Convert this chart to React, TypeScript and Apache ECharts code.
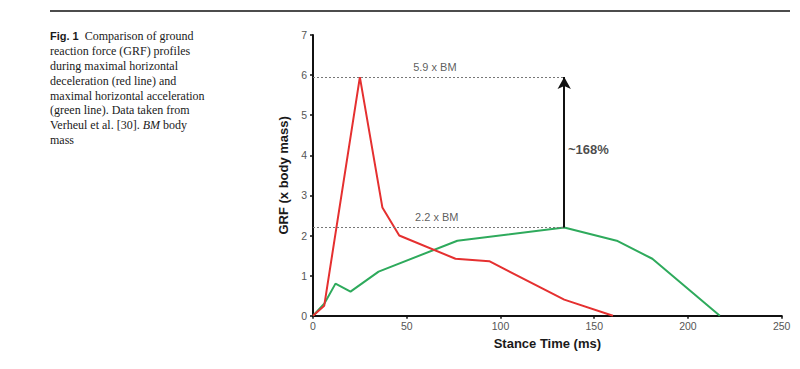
import React, { useEffect, useRef } from "react";
import * as echarts from "echarts";

const decelTime = [0, 6, 25, 37, 46, 76, 94, 134, 160];
const decelGRF = [0, 0.25, 5.95, 2.7, 2.0, 1.42, 1.36, 0.4, 0];
const accelTime = [0, 6, 12, 20, 35, 77, 134, 162, 181, 217];
const accelGRF = [0, 0.3, 0.8, 0.6, 1.1, 1.87, 2.2, 1.87, 1.42, 0];

const peakDecel = 5.95;
const peakAccel = 2.2;
const peakAccelTime = 134;
const xTicks = [0, 250, 50];
const yTicks = [0, 7, 1];

const captionLines = [
  "{b|Fig. 1}  Comparison of ground",
  "reaction force (GRF) profiles",
  "during maximal horizontal",
  "deceleration (red line) and",
  "maximal horizontal acceleration",
  "(green line). Data taken from",
  "Verheul et al. [30]. {i|BM} body",
  "mass",
];

const annotations = [
  { t: 65, v: 6.2, text: "5.9 x BM", bold: false, align: "center" },
  { t: 66, v: 2.47, text: "2.2 x BM", bold: false, align: "center" },
  { t: 136, v: 4.15, text: "~168%", bold: true, align: "left" },
];

export default function App() {
  const ref = useRef<HTMLDivElement>(null);
  useEffect(() => {
    document.body.style.margin = "0";
    const chart = echarts.init(ref.current!, null, { renderer: "svg" });
    const axisFont = "Liberation Sans";
    chart.setOption({
      animation: false,
      backgroundColor: "#ffffff",
      grid: { left: 313, right: 18.3, top: 35, bottom: 53.3 },
      xAxis: {
        type: "value",
        min: xTicks[0],
        max: xTicks[1],
        interval: xTicks[2],
        name: "Stance Time (ms)",
        nameLocation: "middle",
        nameGap: 21,
        nameTextStyle: { fontFamily: axisFont, fontWeight: "bold", fontSize: 13, color: "#1a1a1a" },
        axisLine: { lineStyle: { color: "#111", width: 2 } },
        axisTick: { show: true, inside: false, length: 3, lineStyle: { color: "#111", width: 1.5 } },
        axisLabel: { fontFamily: axisFont, fontSize: 10.5, color: "#555", margin: 5 },
        splitLine: { show: false },
      },
      yAxis: {
        type: "value",
        min: yTicks[0],
        max: yTicks[1],
        interval: yTicks[2],
        name: "GRF (x body mass)",
        nameLocation: "middle",
        nameGap: 16,
        nameRotate: 90,
        nameTextStyle: { fontFamily: axisFont, fontWeight: "bold", fontSize: 13, color: "#1a1a1a" },
        axisLine: { show: true, lineStyle: { color: "#111", width: 2 } },
        axisTick: { show: true, inside: false, length: 3, lineStyle: { color: "#111", width: 1.5 } },
        axisLabel: { fontFamily: axisFont, fontSize: 10.5, color: "#555", margin: 6 },
        splitLine: { show: false },
      },
      series: [
        {
          type: "line",
          name: "deceleration",
          data: decelTime.map((t, i) => [t, decelGRF[i]]),
          symbol: "none",
          lineStyle: { color: "#e53030", width: 2 },
          z: 3,
          markLine: {
            silent: true,
            symbol: ["none", "none"],
            label: { show: false },
            lineStyle: { type: [2, 2], color: "#777", width: 1 },
            data: [
              [{ coord: [0, peakDecel] }, { coord: [peakAccelTime, peakDecel] }],
              [{ coord: [0, peakAccel] }, { coord: [peakAccelTime, peakAccel] }],
            ],
          },
        },
        {
          type: "line",
          name: "acceleration",
          data: accelTime.map((t, i) => [t, accelGRF[i]]),
          symbol: "none",
          lineStyle: { color: "#2eaa5c", width: 2 },
          z: 2,
          markLine: {
            silent: true,
            symbol: ["none", "arrow"],
            symbolSize: [10, 12],
            label: { show: false },
            lineStyle: { type: "solid", color: "#111", width: 2 },
            data: [[{ coord: [peakAccelTime, peakAccel] }, { coord: [peakAccelTime, peakDecel] }]],
          },
        },
        {
          type: "scatter",
          symbolSize: 0,
          silent: true,
          data: annotations.map((a) => ({
            value: [a.t, a.v],
            label: {
              show: true,
              position: "inside",
              formatter: a.text,
              align: a.align,
              verticalAlign: "middle",
              fontFamily: axisFont,
              fontSize: a.bold ? 13 : 11,
              fontWeight: a.bold ? "bold" : "normal",
              color: a.bold ? "#1a1a1a" : "#333",
            },
          })),
        },
      ],
      graphic: [
        {
          type: "line",
          shape: { x1: 50, y1: 11, x2: 790, y2: 11 },
          style: { stroke: "#111", lineWidth: 1.5 },
        },
        {
          type: "text",
          left: 50,
          top: 29,
          style: {
            text: captionLines.join("\n"),
            fontFamily: "Liberation Serif",
            fontSize: 12,
            lineHeight: 14.8,
            fill: "#1a1a1a",
            rich: {
              b: { fontFamily: "Liberation Sans", fontWeight: "bold", fontSize: 11, fill: "#1a1a1a", lineHeight: 14.8 },
              i: { fontFamily: "Liberation Serif", fontStyle: "italic", fontSize: 12, fill: "#1a1a1a", lineHeight: 14.8 },
            },
          },
        },
      ],
    });
    return () => chart.dispose();
  }, []);
  return (
    <div
      ref={ref}
      style={{ position: "absolute", left: 0, top: 0, width: 800, height: 369 }}
    />
  );
}
